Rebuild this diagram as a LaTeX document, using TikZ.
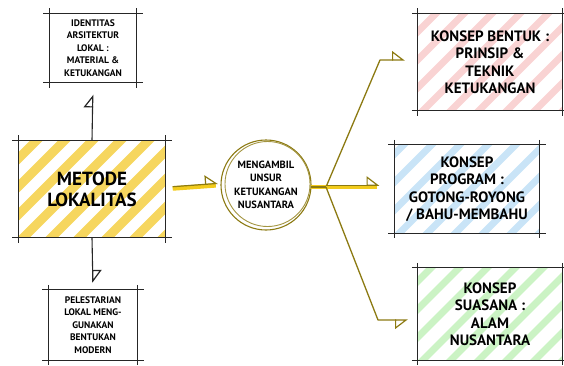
\documentclass[tikz,border=0pt]{standalone}
\usepackage{fontspec}
\setmainfont{PT Sans}
\usepackage{tikz}
\usetikzlibrary{calc,arrows.meta,backgrounds}

\definecolor{stripeyellow}{HTML}{F6D65E}
\definecolor{stripered}{HTML}{F9D3D3}
\definecolor{stripeblue}{HTML}{C9E4F7}
\definecolor{stripegreen}{HTML}{CBF3C4}
\definecolor{olive}{HTML}{8C7A12}
\definecolor{marker}{HTML}{F2CB1C}

\tikzset{
  sketchline/.style={line width=1.1pt, black!85},
  smallbox/.style={align=center, font=\bfseries\fontsize{9.5}{12.5}\selectfont, inner sep=0pt},
  bigbox/.style={align=center, font=\bfseries\fontsize{15}{17.5}\selectfont, inner sep=0pt},
  branch/.style={line width=1.3pt, olive, line join=round},
  flagtip/.style={-{Triangle[open, harpoon, length=12pt, width=18pt, line width=1.2pt]}},
  flagtipswap/.style={-{Triangle[open, harpoon, swap, length=12pt, width=18pt, line width=1.2pt]}},
}

\def\sketchbox(#1){
  \draw[sketchline] ([xshift=-6pt]#1.north west) -- ([xshift=6pt]#1.north east);
  \draw[sketchline] ([xshift=-6pt]#1.south west) -- ([xshift=6pt]#1.south east);
  \draw[sketchline] ([yshift=5pt]#1.north west) -- ([yshift=-5pt]#1.south west);
  \draw[sketchline] ([yshift=5pt]#1.north east) -- ([yshift=-5pt]#1.south east);
}
\def\stripes(#1)(#2)(#3){
  \begin{scope}[on background layer]
    \begin{scope}
      \clip (#1.south west) rectangle (#1.north east);
      \foreach \i in {-7,...,7}
        \draw[#2, line width=#3] ($(#1.south west)+(\i*28pt,-5pt)$) -- ++(130pt,130pt);
    \end{scope}
  \end{scope}
}

\begin{document}
\begin{tikzpicture}[x=1pt, y=-1pt]
			%%%%% START %%%%%
			\useasboundingbox (0,0) rectangle (564,365);

			% left column
			\node[smallbox, minimum width=87pt, minimum height=69pt] (identitas) at (93,48)
				{IDENTITAS\\ARSITEKTUR\\LOKAL :\\MATERIAL \&\\KETUKANGAN};
			\node[align=center, inner sep=0pt, font=\bfseries\fontsize{19}{21}\selectfont,
				minimum width=147pt, minimum height=97pt] (metode) at (92,189) {METODE\\LOKALITAS};
			\node[smallbox, minimum width=89pt, minimum height=70pt] (pelestarian) at (93,325)
				{PELESTARIAN\\LOKAL MENG-\\GUNAKAN\\BENTUKAN\\MODERN};

			\sketchbox(identitas)
			\sketchbox(metode)
			\sketchbox(pelestarian)
			\stripes(metode)(stripeyellow)(9pt)

			\draw[sketchline, flagtip, shorten >=12pt] (metode.north) -- (identitas.south);
			\draw[sketchline, flagtip, shorten >=7pt] (metode.south) -- (pelestarian.north);

			% centre
			\node[circle, minimum size=90pt, inner sep=0pt, align=center,
				font=\bfseries\fontsize{10.5}{13.5}\selectfont] (unsur) at (266,185)
				{MENGAMBIL\\UNSUR\\KETUKANGAN\\NUSANTARA};
			\draw[olive, line width=1.1pt] (unsur.center) circle (45pt);
			\draw[olive!80, line width=0.9pt] ($(unsur.center)+(1.5pt,1pt)$) circle (42.5pt);

			\draw[marker, line width=4.5pt, shorten <=7pt, shorten >=5pt] (metode.east) -- (unsur.west);
			\draw[olive, line width=1.2pt, flagtip, shorten <=7pt, shorten >=3pt]
				([yshift=1.8pt]metode.east) -- ([yshift=1.8pt]unsur.west);

			% right column
			\node[bigbox, minimum width=144pt, minimum height=97pt] (bentuk) at (490,62)
				{KONSEP BENTUK :\\PRINSIP \&\\TEKNIK\\KETUKANGAN};
			\node[bigbox, minimum width=145pt, minimum height=88pt] (program) at (467,189)
				{KONSEP\\PROGRAM :\\GOTONG-ROYONG\\/ BAHU-MEMBAHU};
			\node[bigbox, minimum width=144pt, minimum height=92pt] (suasana) at (490,314)
				{KONSEP\\SUASANA :\\ALAM\\NUSANTARA};

			\sketchbox(bentuk)
			\sketchbox(program)
			\sketchbox(suasana)
			\stripes(bentuk)(stripered)(7pt)
			\stripes(program)(stripeblue)(7pt)
			\stripes(suasana)(stripegreen)(7pt)

			% branches
			\coordinate (fork) at (326,187);
			\coordinate (kinktop) at (380,60);
			\coordinate (kinkbot) at (378,320);

			\draw[marker, line width=4.5pt] (unsur.east |- fork) -- (fork);
			\draw[branch] (unsur.east |- fork) -- (fork);
			\draw[branch, flagtip, shorten >=13pt] (fork) -- (kinktop) -- (kinktop -| bentuk.west);
			\draw[marker, line width=4.5pt, shorten >=17pt] (fork) -- (fork -| program.west);
			\draw[branch, flagtip, shorten >=15pt] ([yshift=1.8pt]fork) -- ([yshift=1.8pt]fork -| program.west);
			\draw[branch, flagtipswap, shorten >=10pt] (fork) -- (kinkbot) -- (kinkbot -| suasana.west);
			%%%%% END %%%%%
\end{tikzpicture}
\end{document}
